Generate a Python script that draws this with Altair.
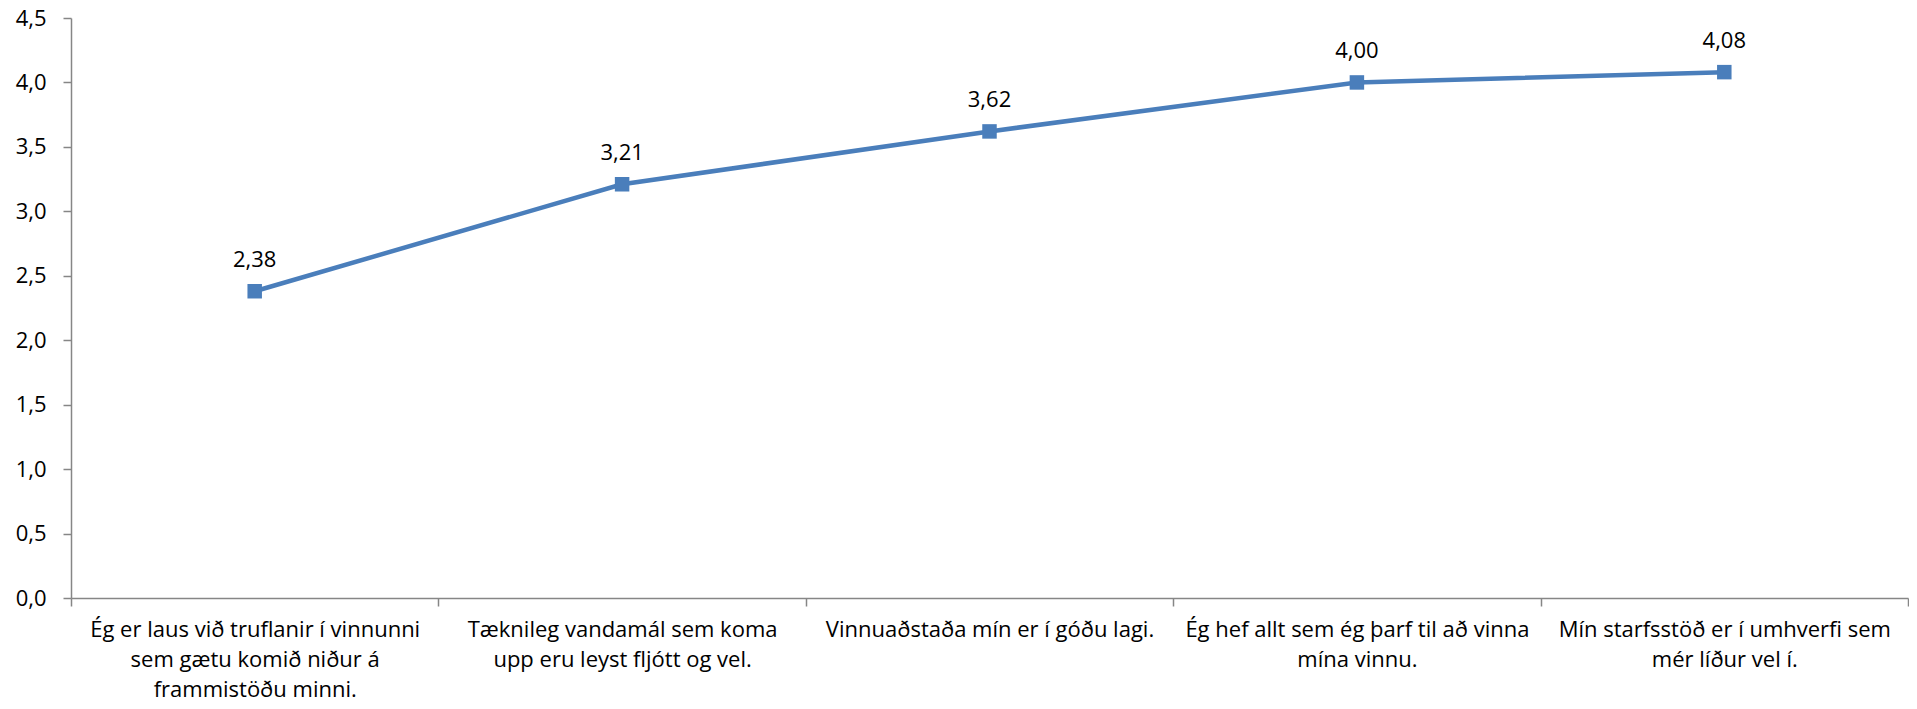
import altair as alt
import pandas as pd

categories = [
    "Ég er laus við truflanir í vinnunni|sem gætu komið niður á|frammistöðu minni.",
    "Tæknileg vandamál sem koma|upp eru leyst fljótt og vel.",
    "Vinnuaðstaða mín er í góðu lagi.",
    "Ég hef allt sem ég þarf til að vinna|mína vinnu.",
    "Mín starfsstöð er í umhverfi sem|mér líður vel í.",
]
values = [2.38, 3.21, 3.62, 4.00, 4.08]
y_ticks = [0, 0.5, 1.0, 1.5, 2.0, 2.5, 3.0, 3.5, 4.0, 4.5]

df = pd.DataFrame({"cat": categories, "val": values})

FONT = "Open Sans"
BLUE = "#4A7EBB"
AXIS_GREY = "#868686"

x_enc = alt.X(
    "cat:N",
    sort=categories,
    scale=alt.Scale(type="band", paddingInner=0, paddingOuter=0),
    axis=alt.Axis(
        title=None,
        labelAngle=0,
        labelExpr="split(datum.label, '|')",
        labelLineHeight=30,
        labelBaseline="top",
        labelAlign="center",
        labelFont=FONT,
        labelFontSize=22,
        labelColor="#000000",
        labelPadding=13,
        labelLimit=0,
        labelOverlap=False,
        tickBand="extent",
        tickSize=8,
        tickColor=AXIS_GREY,
        domainColor=AXIS_GREY,
        domainWidth=1.5,
        tickWidth=1.5,
        grid=False,
    ),
)
y_enc = alt.Y(
    "val:Q",
    scale=alt.Scale(domain=[0, 4.5], nice=False, zero=True),
    axis=alt.Axis(
        title=None,
        values=y_ticks,
        labelExpr="replace(format(datum.value, '.1f'), '.', ',')",
        labelFont=FONT,
        labelFontSize=22,
        labelColor="#000000",
        labelPadding=17,
        tickSize=8,
        tickColor=AXIS_GREY,
        domainColor=AXIS_GREY,
        domainWidth=1.5,
        tickWidth=1.5,
        grid=False,
    ),
)

base = alt.Chart(df).encode(x=x_enc, y=y_enc)

line = base.mark_line(color=BLUE, strokeWidth=4.5)
points = base.mark_point(shape="square", filled=True, size=210, color=BLUE, opacity=1)
labels = base.transform_calculate(
    lbl="replace(format(datum.val, '.2f'), '.', ',')"
).mark_text(
    font=FONT, fontSize=22, color="#000000", baseline="bottom", dy=-19
).encode(text="lbl:N")

chart = (
    (line + points + labels)
    .properties(
        width=1837,
        height=580,
        autosize=alt.AutoSizeParams(type="none"),
        padding={"left": 63, "top": 10, "right": 1, "bottom": 103},
    )
    .configure_view(stroke=None)
)

chart.save("out.html", embed_options={"renderer": "svg", "actions": False})
